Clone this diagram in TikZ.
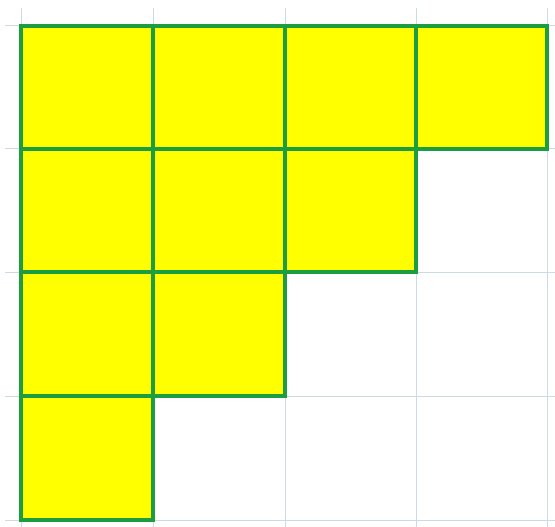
\documentclass[tikz,border=0pt]{standalone}
\definecolor{gridc}{RGB}{205,218,226}
\definecolor{edgec}{RGB}{28,158,64}
\definecolor{fillc}{RGB}{255,255,0}
\begin{document}
\begin{tikzpicture}[x=1pt,y=-1pt,
  gridline/.style={draw=gridc,line width=1pt},
  cell/.style={fill=fillc,draw=edgec,line width=3.5pt,line join=miter}]
\useasboundingbox (0,0) rectangle (555,527);
\fill[white] (0,0) rectangle (555,527);
% light grid
\foreach \x in {21,153,285,416,547} \draw[gridline] (\x,8) -- (\x,527);
\foreach \y in {26,149,272,396,520} \draw[gridline] (5,\y) -- (555,\y);
% staircase of yellow cells
\def\xs{{21,153,285,416,547}}
\def\ys{{26,149,272,396,520}}
\foreach \r/\n in {0/4,1/3,2/2,3/1}{
  \foreach \c in {1,...,\n}{
    \pgfmathsetmacro\xa{\xs[\c-1]}
    \pgfmathsetmacro\xb{\xs[\c]}
    \pgfmathsetmacro\ya{\ys[\r]}
    \pgfmathsetmacro\yb{\ys[\r+1]}
    \path[cell] (\xa,\ya) rectangle (\xb,\yb);
  }
}
\end{tikzpicture}
\end{document}
